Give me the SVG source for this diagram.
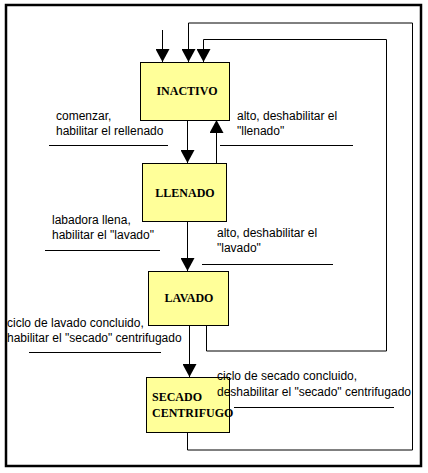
<svg xmlns="http://www.w3.org/2000/svg" width="428" height="473" viewBox="0 0 428 473">
<defs>
<marker id="ah" markerUnits="userSpaceOnUse" markerWidth="14" markerHeight="14" refX="13" refY="7" orient="auto">
<path d="M0,0 L13,7 L0,14 z" fill="#000"/>
</marker>
<style>
.box{fill:#ffff99;stroke:#000;stroke-width:1}
.st{font-family:"Liberation Serif","Times New Roman",serif;font-weight:bold;font-size:12px;fill:#000}
.lb{font-family:"Liberation Sans",Arial,sans-serif;font-size:12px;fill:#000}
.ln{fill:none;stroke:#000;stroke-width:1}
.ar{fill:none;stroke:#000;stroke-width:1;marker-end:url(#ah)}
</style>
</defs>
<rect x="0" y="0" width="428" height="473" fill="#fff"/>
<rect x="6" y="5" width="415" height="461" fill="none" stroke="#000" stroke-width="2.5"/>
<g id="connectors">
<path class="ar" d="M162.5,30 V62"/>
<path class="ar" d="M187.5,432 V450 H412.5 V23 H188.5 V62"/>
<path class="ar" d="M206.5,325 V351 H386.5 V39.5 H203.5 V62"/>
<path class="ar" d="M187.5,120 V163"/>
<path class="ar" d="M216.5,163 V120"/>
<path class="ar" d="M187.5,222 V271"/>
<path class="ar" d="M189.5,325 V377"/>
<path class="ln" d="M49,145.5 H168 M220,145.5 H353 M45,250.5 H160 M202,264.5 H333 M29,352.5 H161 M234,407.5 H394"/>
</g>
<g id="inactivo">
<rect class="box" x="140.5" y="62.5" width="89" height="58"/>
<text class="st" x="187" y="95" text-anchor="middle">INACTIVO</text>
</g>
<g id="llenado">
<rect class="box" x="142.5" y="163.5" width="84" height="58"/>
<text class="st" x="185" y="197" text-anchor="middle">LLENADO</text>
</g>
<g id="lavado">
<rect class="box" x="148.5" y="271.5" width="80" height="54"/>
<text class="st" x="189" y="302" text-anchor="middle">LAVADO</text>
</g>
<g id="secado">
<rect class="box" x="146.5" y="377.5" width="83" height="55"/>
<text class="st" x="152" y="401">SECADO</text>
<text class="st" x="152" y="417">CENTRIFUGO</text>
</g>
<g id="labels">
<text class="lb" x="56" y="120">comenzar,</text>
<text class="lb" x="56" y="135">habilitar el rellenado</text>
<text class="lb" x="237" y="120">alto, deshabilitar el</text>
<text class="lb" x="237" y="135">"llenado"</text>
<text class="lb" x="52" y="224">labadora llena,</text>
<text class="lb" x="52" y="239">habilitar el "lavado"</text>
<text class="lb" x="217" y="237">alto, deshabilitar el</text>
<text class="lb" x="217" y="252">"lavado"</text>
<text class="lb" x="7" y="327">ciclo de lavado concluido,</text>
<text class="lb" x="7" y="342">habilitar el "secado" centrifugado</text>
<text class="lb" x="217" y="380">ciclo de secado concluido,</text>
<text class="lb" x="217" y="396">deshabilitar el "secado" centrifugado</text>
</g>
</svg>
